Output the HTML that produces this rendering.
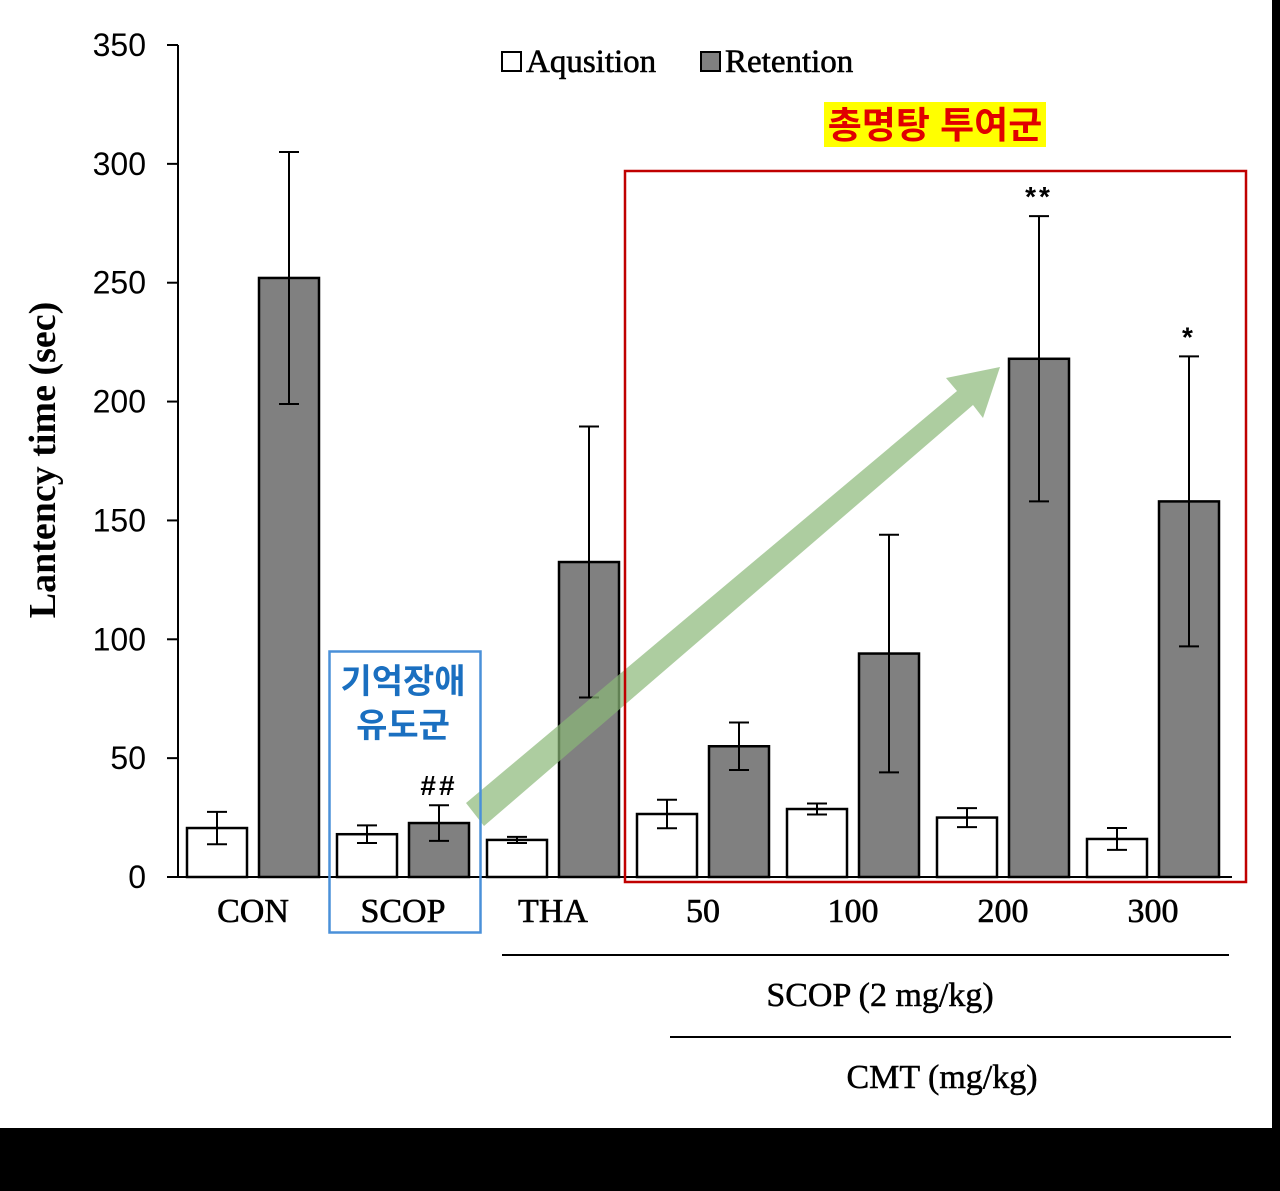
<!DOCTYPE html>
<html><head><meta charset="utf-8"><style>
html,body{margin:0;padding:0;background:#fff}
svg{display:block}
</style></head><body>
<svg id="chart" width="1280" height="1191" viewBox="0 0 1280 1191" xmlns="http://www.w3.org/2000/svg">
<rect x="0" y="0" width="1280" height="1191" fill="#fff"/>
<g id="plot"></g>
<rect x="0" y="1128" width="1280" height="63" fill="#000"/>
<rect x="1272" y="0" width="8" height="1191" fill="#000"/>
</svg>
<script>
const categories = ["CON","SCOP","THA","50","100","200","300"];
const aqValues = [20.6, 18, 15.6, 26.5, 28.6, 25, 16];
const aqErrors = [6.8, 3.7, 1.3, 6, 2.3, 4, 4.6];
const retValues = [252, 22.7, 132.5, 55, 94, 218, 158];
const retErrors = [53, 7.5, 57, 10, 50, 60, 61];
const yTicks = [0, 50, 100, 150, 200, 250, 300, 350];
const significance = ["", "##", "", "", "", "**", "*"];

const NS = "http://www.w3.org/2000/svg";
const g = document.getElementById("plot");
const y0 = 877, yTop = 45, yMax = 350;
function yScale(v){ return y0 - (v / yMax) * (y0 - yTop); }
function xCenter(i){ return 253 + i * 150; }
function mk(tag, attrs, parent){
  const e = document.createElementNS(NS, tag);
  for (const k in attrs) e.setAttribute(k, attrs[k]);
  (parent || g).appendChild(e);
  return e;
}
const serif = '"Liberation Serif", serif';
const sans = '"Liberation Sans", sans-serif';
const kr = '"Liberation Sans", "Noto Sans CJK KR", sans-serif';

yTicks.forEach(t => {
  const y = yScale(t);
  const tk = mk("line", {x1:167, x2:178, y1:y, y2:y, stroke:"#000", "stroke-width":2});
  
  
  const tx = mk("text", {x:146, y:y+11, "text-anchor":"end", "font-family":sans, "font-size":32, fill:"#000"});
  tx.textContent = t;
  
  
});
const ax = mk("line", {x1:178, x2:178, y1:yTop, y2:y0, stroke:"#000", "stroke-width":2});


const xax = mk("line", {x1:168, x2:1232, y1:y0, y2:y0, stroke:"#000", "stroke-width":2});



const yt = mk("text", {x:0, y:0, transform:"translate(55,460) rotate(-90)", "text-anchor":"middle", "font-family":serif, "font-size":38, "font-weight":"bold", fill:"#000"});
yt.textContent = "Lantency time (sec)";



function bar(cx, v, err, fill, name){
  const y = yScale(v);
  const r = mk("rect", {x:cx-30, y:y, width:60, height:y0-y, fill:fill, stroke:"#000", "stroke-width":2.5});
  
  
  const yh = yScale(v+err), yl = yScale(v-err);
  const eb = mk("path", {d:`M${cx},${yh}V${yl}M${cx-10},${yh}H${cx+10}M${cx-10},${yl}H${cx+10}`, stroke:"#000", "stroke-width":2, fill:"none"});
  
  
}
categories.forEach((c, i) => {
  const cx = xCenter(i);
  bar(cx-36, aqValues[i], aqErrors[i], "#fff", "bar-aqusition-" + c.toLowerCase());
  bar(cx+36, retValues[i], retErrors[i], "#808080", "bar-retention-" + c.toLowerCase());
  const lb = mk("text", {x:cx, y:922, "text-anchor":"middle", "font-family":serif, "font-size":34, fill:"#000", stroke:"#000", "stroke-width":0.6});
  lb.textContent = c;
  
  
  if (significance[i]) {
    const s = mk("text", {x:cx+36, y:yScale(retValues[i]+retErrors[i])-10, "text-anchor":"middle", "font-family":sans, "font-size":28, "font-weight":"bold", fill:"#000", "letter-spacing":3});
    s.textContent = significance[i];
    
    
  }
});

const l1 = mk("rect", {x:502, y:52, width:19, height:19, fill:"#fff", stroke:"#000", "stroke-width":2});


const lt1 = mk("text", {x:526, y:72, "font-family":serif, "font-size":33, fill:"#000", stroke:"#000", "stroke-width":0.6});
lt1.textContent = "Aqusition";


const l2 = mk("rect", {x:701, y:52, width:19, height:19, fill:"#808080", stroke:"#000", "stroke-width":2});


const lt2 = mk("text", {x:725, y:72, "font-family":serif, "font-size":33, fill:"#000", stroke:"#000", "stroke-width":0.6});
lt2.textContent = "Retention";



const gl1 = mk("line", {x1:502, x2:1229, y1:955, y2:955, stroke:"#000", "stroke-width":2});


const gt1 = mk("text", {x:880, y:1006, "text-anchor":"middle", "font-family":serif, "font-size":34, fill:"#000", stroke:"#000", "stroke-width":0.5});
gt1.textContent = "SCOP (2 mg/kg)";


const gl2 = mk("line", {x1:670, x2:1231, y1:1037, y2:1037, stroke:"#000", "stroke-width":2});


const gt2 = mk("text", {x:942, y:1088, "text-anchor":"middle", "font-family":serif, "font-size":34, fill:"#000", stroke:"#000", "stroke-width":0.5});
gt2.textContent = "CMT (mg/kg)";



const ar = mk("path", {d:"M466,803 L957,391 L946,378 L1000,367 L983,418 L973,405 L484,826 Z", fill:"#8ab878", "fill-opacity":0.7});



const rb = mk("rect", {x:625, y:171, width:621, height:711, fill:"none", stroke:"#c00000", "stroke-width":2.5});


const bb = mk("rect", {x:329.5, y:651.5, width:151, height:281, fill:"none", stroke:"#4a90d9", "stroke-width":2.5});



const yb = mk("rect", {x:824, y:102, width:222, height:45, fill:"#ffff00"});


const yt2 = mk("text", {x:935, y:138, "text-anchor":"middle", "font-family":kr, "font-size":37, "font-weight":"bold", fill:"#e00000"});
yt2.textContent = "총명탕 투여군";


const bt1 = mk("text", {x:403, y:693, "text-anchor":"middle", "font-family":kr, "font-size":34, "font-weight":"bold", fill:"#1a6fc0"});
bt1.textContent = "기억장애";


const bt2 = mk("text", {x:403, y:737, "text-anchor":"middle", "font-family":kr, "font-size":34, "font-weight":"bold", fill:"#1a6fc0"});
bt2.textContent = "유도군";


</script>
</body></html>
